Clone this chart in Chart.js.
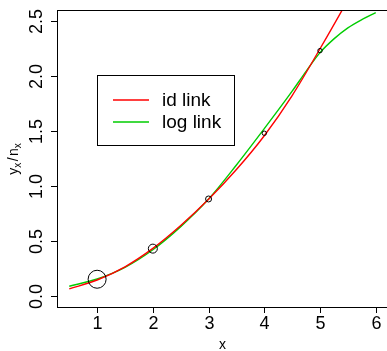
<!DOCTYPE html>
<html>
<head>
<meta charset="utf-8">
<script src="https://cdn.jsdelivr.net/npm/chart.js@4/dist/chart.umd.min.js"></script>
<style>
html,body{margin:0;padding:0;overflow:hidden;background:#fff;}
canvas{display:block;}
</style>
</head>
<body>
<canvas id="c" width="390" height="351" style="width:390px;height:351px;"></canvas>
<script>
// observed points
const obsX = [1, 2, 3, 4, 5];
const obsY = [0.152, 0.43, 0.881, 1.478, 2.228];
const obsRadius = [9, 4.5, 3, 2.2, 2.2];

// fitted curves
const idLinkX = [0.5, 1, 1.5, 2, 2.5, 3, 3.5, 4, 4.5, 5, 5.5, 6];
const idLinkY = [0.064, 0.145, 0.265, 0.432, 0.64, 0.878, 1.148, 1.455, 1.82, 2.245, 2.69, 3.17];
const logLinkX = [0.5, 1, 1.5, 2, 2.5, 3, 3.5, 4, 4.5, 4.75, 5, 5.25, 5.5, 5.75, 6];
const logLinkY = [0.088, 0.154, 0.26, 0.42, 0.63, 0.88, 1.19, 1.52, 1.86, 2.04, 2.21, 2.335, 2.435, 2.51, 2.573];

const xTicks = [1, 2, 3, 4, 5, 6];
const yTicks = [0, 0.5, 1, 1.5, 2, 2.5];
const yTickLabels = ['0.0', '0.5', '1.0', '1.5', '2.0', '2.5'];
const seriesLabels = ['id link', 'log link'];
const seriesColors = ['#ff0000', '#00cd00'];

const zip = (xs, ys) => xs.map((x, i) => ({x: x, y: ys[i]}));
const FONT = '"Liberation Sans", Arial, Helvetica, sans-serif';

const rPlot = {
  id: 'rPlot',
  afterDraw(chart) {
    const ctx = chart.ctx;
    const a = chart.chartArea;
    const xs = chart.scales.x, ys = chart.scales.y;
    ctx.save();
    ctx.strokeStyle = '#000';
    ctx.fillStyle = '#000';
    ctx.lineWidth = 1;
    // box
    ctx.strokeRect(Math.round(a.left) + 0.5, Math.round(a.top) + 0.5,
      Math.round(a.right - a.left), Math.round(a.bottom - a.top));
    // x ticks
    ctx.font = '18px ' + FONT;
    ctx.textAlign = 'center';
    ctx.textBaseline = 'alphabetic';
    xTicks.forEach(v => {
      const px = Math.round(xs.getPixelForValue(v)) + 0.5;
      ctx.beginPath();
      ctx.moveTo(px, a.bottom);
      ctx.lineTo(px, a.bottom + 6);
      ctx.stroke();
      ctx.fillText(String(v), px, a.bottom + 22);
    });
    // y ticks
    yTicks.forEach((v, i) => {
      const py = Math.round(ys.getPixelForValue(v)) + 0.5;
      ctx.beginPath();
      ctx.moveTo(a.left - 6, py);
      ctx.lineTo(a.left, py);
      ctx.stroke();
      ctx.save();
      ctx.translate(a.left - 15, py);
      ctx.rotate(-Math.PI / 2);
      ctx.textAlign = 'center';
      ctx.textBaseline = 'alphabetic';
      ctx.fillText(yTickLabels[i], 0, 0);
      ctx.restore();
    });
    // x title
    ctx.font = '14px ' + FONT;
    ctx.textAlign = 'center';
    ctx.fillText('x', (a.left + a.right) / 2, 349);
    // y title: y_x / n_x
    ctx.save();
    ctx.translate(18, 159);
    ctx.rotate(-Math.PI / 2);
    const parts = [['y', 14, 0], ['x', 10, 3], ['/', 14, 0], ['n', 14, 0], ['x', 10, 3]];
    let total = 0;
    parts.forEach(p => { ctx.font = p[1] + 'px ' + FONT; total += ctx.measureText(p[0]).width + (p[0] === '/' ? 3 : 0); });
    let cx = -total / 2;
    ctx.textAlign = 'left';
    parts.forEach(p => {
      ctx.font = p[1] + 'px ' + FONT;
      const w = ctx.measureText(p[0]).width;
      if (p[0] === '/') cx += 1.5;
      ctx.fillText(p[0], cx, p[2]);
      cx += w + (p[0] === '/' ? 1.5 : 0);
    });
    ctx.restore();
    // legend
    ctx.fillStyle = '#fff';
    ctx.fillRect(97, 75, 137, 70);
    ctx.strokeStyle = '#000';
    ctx.strokeRect(97.5, 75.5, 137, 70);
    ctx.font = '19px ' + FONT;
    ctx.textAlign = 'left';
    ctx.textBaseline = 'middle';
    seriesLabels.forEach((lab, i) => {
      const ly = 100 + i * 22;
      ctx.strokeStyle = seriesColors[i];
      ctx.lineWidth = 1.3;
      ctx.beginPath();
      ctx.moveTo(113, ly);
      ctx.lineTo(149, ly);
      ctx.stroke();
      ctx.fillStyle = '#000';
      ctx.fillText(lab, 162, ly + 1);
    });
    ctx.restore();
  }
};

new Chart(document.getElementById('c'), {
  type: 'scatter',
  data: {
    datasets: [
      {
        label: 'observed',
        data: zip(obsX, obsY),
        showLine: false,
        pointRadius: obsRadius,
        pointBackgroundColor: 'rgba(0,0,0,0)',
        pointBorderColor: '#000',
        pointBorderWidth: 1,
        order: 0
      },
      {
        label: seriesLabels[0],
        data: zip(idLinkX, idLinkY),
        showLine: true,
        pointRadius: 0,
        borderColor: seriesColors[0],
        borderWidth: 1.4,
        cubicInterpolationMode: 'monotone',
        clip: 0,
        order: 1
      },
      {
        label: seriesLabels[1],
        data: zip(logLinkX, logLinkY),
        showLine: true,
        pointRadius: 0,
        borderColor: seriesColors[1],
        borderWidth: 1.4,
        cubicInterpolationMode: 'monotone',
        clip: 0,
        order: 2
      }
    ]
  },
  options: {
    responsive: false,
    animation: false,
    events: [],
    devicePixelRatio: 1,
    layout: {autoPadding: false, padding: {top: 10, right: 2, left: 0, bottom: 0}},
    plugins: {legend: {display: false}, tooltip: {enabled: false}},
    scales: {
      x: {
        type: 'linear', min: 0.28, max: 6.22,
        grid: {display: false}, border: {display: false},
        ticks: {display: false},
        afterFit(s) { s.height = 44; }
      },
      y: {
        type: 'linear', min: -0.1, max: 2.597,
        grid: {display: false}, border: {display: false},
        ticks: {display: false},
        afterFit(s) { s.width = 57; }
      }
    }
  },
  plugins: [rPlot]
});
</script>
</body>
</html>
